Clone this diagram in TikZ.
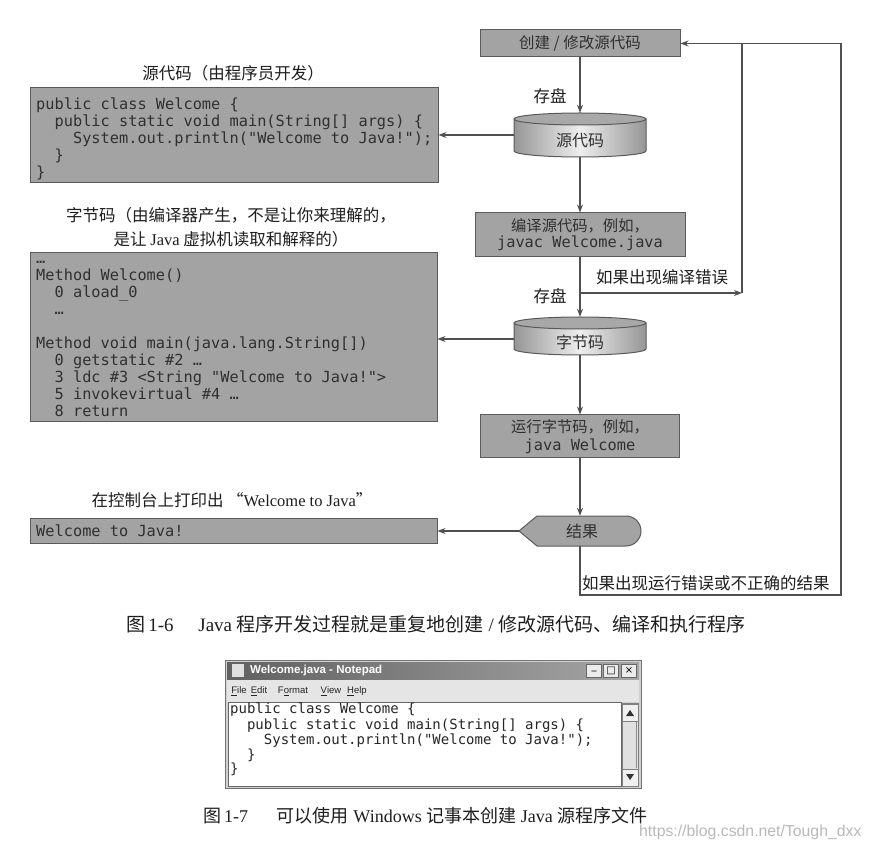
\documentclass[tikz,border=0pt]{standalone}
\usepackage{fontspec}
\setmainfont{Liberation Serif}
\setsansfont{Liberation Sans}
\setmonofont{DejaVu Sans Mono}
\newfontfamily\cjk{Noto Sans CJK SC}
\newfontfamily\dejavu{DejaVu Sans}
\usetikzlibrary{arrows.meta,calc}
\definecolor{boxfill}{RGB}{163,163,163}
\definecolor{boxline}{RGB}{90,90,90}
\definecolor{boxtext}{RGB}{48,48,48}
\definecolor{arrowcol}{RGB}{80,80,80}
\definecolor{labelcol}{RGB}{30,30,30}
\definecolor{cylside}{RGB}{150,150,150}
\definecolor{cylmid}{RGB}{238,238,238}
\definecolor{cyltop}{RGB}{168,168,168}
\definecolor{wmark}{RGB}{185,185,185}
\begin{document}
\begin{tikzpicture}[x=1pt,y=-1pt,
  flowbox/.style={draw=boxline, fill=boxfill, line width=1pt, inner sep=0, text=boxtext, align=center},
  codebox/.style={draw=boxline, fill=boxfill, line width=1pt, inner sep=0},
  ghost/.style={inner sep=0},
  flowline/.style={draw=boxline, line width=1pt},
  arr/.style={draw=arrowcol, line width=1.2pt, -{Stealth[length=8pt,width=6pt]}},
  conn/.style={draw=arrowcol, line width=1.2pt},
  lbl/.style={inner sep=0, text=labelcol, font=\cjk\fontsize{16.5}{18}\selectfont},
  boxtxt/.style={inner sep=0, text=boxtext, font=\cjk\fontsize{16}{18}\selectfont},
  code/.style={inner sep=0, anchor=north west, align=left, text=boxtext, font=\ttfamily\fontsize{15.3}{17}\selectfont},
  npcode/.style={inner sep=0, anchor=north west, align=left, text=black!85, font=\ttfamily\fontsize{14}{14.75}\selectfont},
  captxt/.style={inner sep=0, anchor=west, text=labelcol, font=\fontsize{18}{20}\selectfont},
  menu/.style={inner sep=0, text=black!85, font=\sffamily\fontsize{9.5}{12}\selectfont},
  winbtn/.style={draw=black!60, fill=black!8, minimum width=15, minimum height=13, inner sep=0, font=\dejavu\fontsize{10}{10}\selectfont}
]
\useasboundingbox (0,0) rectangle (871,850);
\fill[white] (0,0) rectangle (871,850);

% ---------- flow chart (right) ----------
\node[flowbox, minimum width=200, minimum height=27, font=\cjk\fontsize{15.5}{17}\selectfont] (create) at (580,43.5) {创建 / 修改源代码};

% source-code cylinder
\node[ghost, minimum width=132, minimum height=44] (src) at (580,135) {};
\shade[left color=cylside, right color=cylside, middle color=cylmid]
  (514,119) -- (514,151) arc[start angle=180, end angle=0, x radius=66, y radius=6]
  -- (646,119) arc[start angle=0, end angle=-180, x radius=66, y radius=6] -- cycle;
\draw[flowline] (514,119) -- (514,151) arc[start angle=180, end angle=0, x radius=66, y radius=6] -- (646,119);
\draw[flowline, fill=cyltop] (580,119) ellipse[x radius=66, y radius=6];
\node[boxtxt] (srctext) at (580,141) {源代码};

\node[flowbox, minimum width=210, minimum height=44, font=\fontsize{15.3}{16}\selectfont] (compile) at (580,235)
  {{\cjk 编译源代码，例如，}\\{\ttfamily javac Welcome.java}};

% bytecode cylinder
\node[ghost, minimum width=132, minimum height=38] (bc) at (580,336) {};
\shade[left color=cylside, right color=cylside, middle color=cylmid]
  (514,323) -- (514,349) arc[start angle=180, end angle=0, x radius=66, y radius=6]
  -- (646,323) arc[start angle=0, end angle=-180, x radius=66, y radius=6] -- cycle;
\draw[flowline] (514,323) -- (514,349) arc[start angle=180, end angle=0, x radius=66, y radius=6] -- (646,323);
\draw[flowline, fill=cyltop] (580,323) ellipse[x radius=66, y radius=6];
\node[boxtxt] (bctext) at (580,342) {字节码};

\node[flowbox, minimum width=199, minimum height=43, font=\fontsize{15.3}{17.5}\selectfont] (run) at (580,436.5)
  {{\cjk 运行字节码，例如，}\\{\ttfamily java Welcome}};

% result (display shape)
\node[ghost, minimum width=122, minimum height=30] (res) at (580,531) {};
\draw[flowline, fill=boxfill] (519,531) -- (537,516) -- (626,516)
  arc[start angle=-90, end angle=90, radius=15] -- (537,546) -- cycle;
\node[boxtxt] (restext) at (582,531) {结果};

% ---------- left boxes ----------
\node[lbl] (srclbl) at (233,73) {源代码（由程序员开发）};
\node[codebox, minimum width=408, minimum height=95] (srcbox) at (234,135.5) {};
\node[code] (srccode) at (36,97.2) {\strut public class Welcome \{\\
\phantom{00}public static void main(String[] args) \{\\
\phantom{0000}System.out.println("Welcome to Java!");\\
\phantom{00}\}\\
\}};

\node[lbl] (bclbl1) at (231,215) {字节码（由编译器产生，不是让你来理解的，};
\node[lbl] (bclbl2) at (231,239) {是让 {\rmfamily Java} 虚拟机读取和解释的）};
\node[codebox, minimum width=407, minimum height=169] (bcbox) at (233.5,337.5) {};
\node[code] (bccode) at (36,251.8) {\strut …\\
Method Welcome()\\
\phantom{00}0 aload\_0\\
\phantom{00}…\\
\strut\\
Method void main(java.lang.String[])\\
\phantom{00}0 getstatic \#2 …\\
\phantom{00}3 ldc \#3 <String "Welcome to Java!">\\
\phantom{00}5 invokevirtual \#4 …\\
\phantom{00}8 return};

\node[lbl] (outlbl) at (232,500) {在控制台上打印出 “{\rmfamily Welcome to Java}”};
\node[codebox, minimum width=407, minimum height=25] (outbox) at (233.5,530.5) {};
\node[code] (outtext) at (36,524) {\strut Welcome to Java!};

% ---------- connectors ----------
\draw[arr] (create) -- (src);
\draw[arr] (src.west) -- (src.west -| srcbox.east);
\draw[arr] (src) -- (compile);
\draw[arr] (compile) -- (bc);
\coordinate (errJ) at (580,293);
\coordinate (errR) at (742,293);
\coordinate (errT) at (742,43.5);
\draw[arr] (errJ) -- (errR);
\draw[conn] (errR) -- (errT);
\coordinate (bcw) at (514,339);
\draw[arr] (bcw) -- (bcw -| bcbox.east);
\draw[arr] (bc) -- (run);
\draw[arr] (run.south) -- (run.south |- res.north);
\draw[arr] (res.west) -- (res.west -| outbox.east);
\coordinate (loopB) at (841,595);
\coordinate (loopT) at (841,43.5);
\draw[arr] (res.south) |- (loopB) -- (loopT) -- (create.east);

\node[lbl] (save1) at (550,96) {存盘};
\node[lbl] (save2) at (550,296) {存盘};
\node[lbl] (cerr) at (662,277) {如果出现编译错误};
\node[lbl, anchor=west] (rerr) at (582,583) {如果出现运行错误或不正确的结果};

% ---------- caption 1-6 ----------
\node[captxt, font=\fontsize{19}{21}\selectfont] (cap1) at (126,624) {{\cjk 图}\,1-6\hspace{1.3em}Java {\cjk 程序开发过程就是重复地创建} / {\cjk 修改源代码、编译和执行程序}};

% ---------- notepad window ----------
\node[draw=black!55, fill=black!18, line width=1pt, minimum width=416, minimum height=128, inner sep=0] (np) at (433,724) {};
\shade[left color=black!62, right color=black!35] (227,662) rectangle (639,680);
\fill[black!12] (232,664) rectangle (244,677);
\node[inner sep=0, anchor=west, text=white, font=\sffamily\bfseries\fontsize{11.5}{13}\selectfont] (nptitle) at (250,670.5) {Welcome.java - Notepad};
\node[winbtn] (bmin) at (594,671) {\_};
\node[winbtn] (bmax) at (611,671) {□};
\node[winbtn] (bcls) at (629,671) {×};
\fill[black!10] (227,680) rectangle (639,702);
\node[menu] (mfile) at (239,691) {\underline{F}ile};
\node[menu] (medit) at (259,691) {\underline{E}dit};
\node[menu] (mformat) at (293,691) {F\underline{o}rmat};
\node[menu] (mview) at (331,691) {\underline{V}iew};
\node[menu] (mhelp) at (357,691) {\underline{H}elp};
\draw[black!60, fill=white, line width=0.8pt] (228,702.5) rectangle (621.5,786);
\draw[black!50, fill=black!12, line width=0.6pt] (622,703) rectangle (638,786);
\draw[black!50, fill=black!6, line width=0.6pt] (622,704) rectangle (638,721);
\fill[black!80] (626,716) -- (634,716) -- (630,710) -- cycle;
\draw[black!50, fill=black!6, line width=0.6pt] (622,769) rectangle (638,786);
\fill[black!80] (626,774) -- (634,774) -- (630,780) -- cycle;
\draw[black!45, line width=1pt] (636,722) -- (636,768);
\node[npcode] (nptext) at (230,702.6) {\strut public class Welcome \{\\
\phantom{00}public static void main(String[] args) \{\\
\phantom{0000}System.out.println("Welcome to Java!");\\
\phantom{00}\}\\
\}};

% ---------- caption 1-7 ----------
\node[captxt] (cap2) at (203,816) {{\cjk 图}\,1-7\hspace{1.6em}{\cjk 可以使用} Windows {\cjk 记事本创建} Java {\cjk 源程序文件}};
\node[inner sep=0, anchor=west, text=wmark, font=\sffamily\fontsize{15.8}{17}\selectfont] (wm) at (639,832) {https://blog.csdn.net/Tough\_dxx};
\end{tikzpicture}
\end{document}
